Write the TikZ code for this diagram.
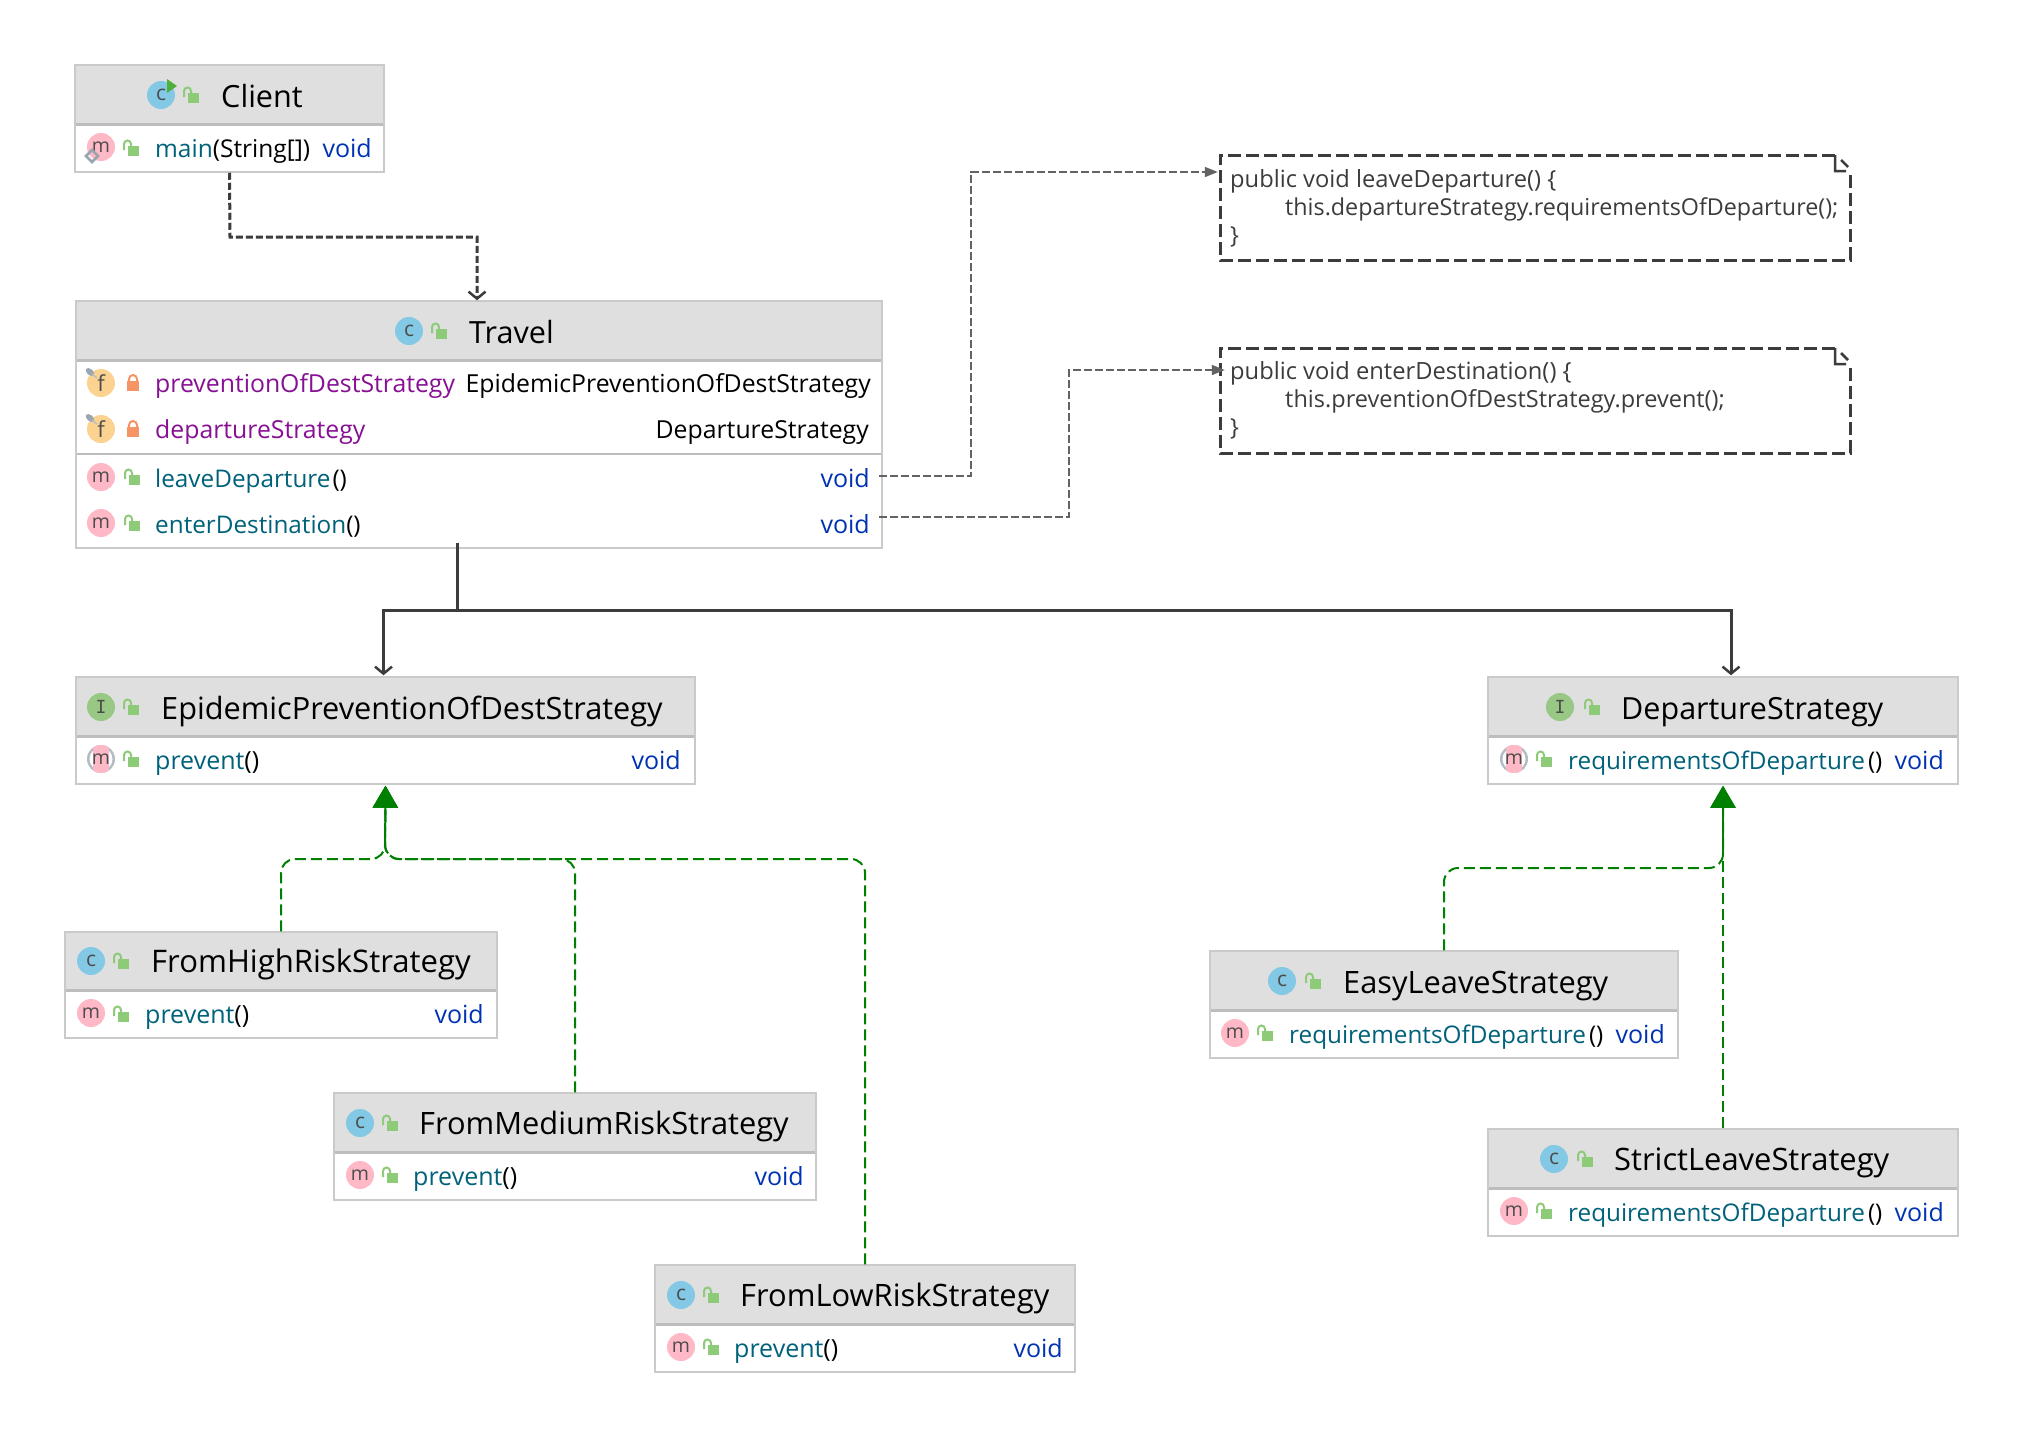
\documentclass[tikz,border=0pt]{standalone}
\usepackage{fontspec}
\setmainfont{Open Sans}
\newfontfamily\iconfont{DejaVu Sans Mono}
\usetikzlibrary{arrows.meta,calc}
\definecolor{hdr}{HTML}{DFDFDF}
\definecolor{brd}{HTML}{CACACA}
\definecolor{sepc}{HTML}{BDBDBD}
\definecolor{mth}{HTML}{00627A}
\definecolor{fld}{HTML}{871094}
\definecolor{kwd}{HTML}{0033B3}
\definecolor{iconC}{HTML}{83C9E5}
\definecolor{iconI}{HTML}{98C883}
\definecolor{iconM}{HTML}{FFB8C6}
\definecolor{iconF}{HTML}{FBD28F}
\definecolor{lockG}{HTML}{8ECB78}
\definecolor{lockO}{HTML}{F59566}
\definecolor{ink}{HTML}{3C3C3C}
\definecolor{grn}{HTML}{008000}
\definecolor{pinc}{HTML}{9AA5AF}
\definecolor{runc}{HTML}{50AF38}
\newcommand{\fs}[1]{\fontsize{#1}{1.2em}\selectfont}
\newcommand{\rowf}{\fs{24.3}}
\newcommand{\pvf}{\fs{25}}
\newcommand{\fldf}{\fs{24.8}}
\newcommand{\notef}[1]{\fs{#1}\color{ink}}
\tikzset{
  x=1pt,y=-1pt,
  umlbox/.style={draw=brd,line width=1.5pt,fill=white,inner sep=0pt,rectangle},
  notebody/.style={inner sep=0pt,rectangle},
  txt/.style={anchor=base west,inner sep=0pt},
  txtr/.style={anchor=base east,inner sep=0pt},
  uses/.style={draw=ink,line width=3pt,dash pattern=on 7pt off 3pt,-{Straight Barb[length=7pt,width=17pt,line width=2.5pt]}},
  assoc/.style={draw=ink,line width=3pt,-{Straight Barb[length=7pt,width=17pt,line width=2.5pt]}},
  link/.style={draw=ink!80,line width=1.6pt,dash pattern=on 8pt off 3pt,-{Triangle[length=13pt,width=10pt]}},
  impl/.style={draw=grn,line width=2pt,dash pattern=on 11pt off 5pt,rounded corners=14pt,-{Triangle[length=22pt,width=25pt]}},
  notedash/.style={draw=ink,line width=3pt,dash pattern=on 13pt off 5pt},
}
% name, left, top, right, bottom, header bottom
\newcommand{\umlframe}[6]{
  \node[umlbox,minimum width=#4-#2,minimum height=#5-#3] (#1) at ({(#2+#4)/2},{(#3+#5)/2}) {};
  \fill[hdr] (#2+1,#3+1) rectangle (#4-1,#6-1);
  \draw[sepc,line width=3pt] (#2+1,#6) -- (#4-1,#6);
}
\newcommand{\plock}[2]{
  \fill[lockG] (#1-3,#2-2) rectangle (#1+8,#2+8);
  \draw[lockG,line width=2pt] (#1-7,#2+2) -- (#1-7,#2-4) arc[start angle=180,end angle=360,radius=3.5] -- (#1,#2-1);
}
\newcommand{\rlock}[2]{
  \fill[lockO] (#1-6,#2-2) rectangle (#1+6,#2+8);
  \draw[lockO,line width=2pt] (#1-4,#2-2) -- (#1-4,#2-4) arc[start angle=180,end angle=360,radius=4] -- (#1+4,#2-2);
}
\newcommand{\ico}[4]{
  \fill[#3] (#1,#2) circle[radius=14];
  \node[inner sep=0pt,text=black!70] at (#1,#2) {#4};
}
\newcommand{\lc}{\fontsize{21}{22}\selectfont c}
\newcommand{\lm}{\fontsize{19.5}{20}\selectfont m}
\newcommand{\lf}{\fontsize{22}{22}\selectfont f}
\newcommand{\li}{\iconfont\fontsize{18}{20}\selectfont I}
\newcommand{\absm}[2]{
  \fill[pinc!75] (#1,#2) circle[radius=14];
  \fill[white] (#1,#2) circle[radius=11.5];
  \begin{scope}
    \clip (#1,#2) circle[radius=14];
    \fill[iconM] (#1-8,#2-14) rectangle (#1+8,#2+14);
  \end{scope}
  \node[inner sep=0pt,text=black!70] at (#1,#2) {\lm};
}
\newcommand{\finalpin}[2]{
  \fill[pinc,rotate around={-40:(#1-11,#2-11)}] (#1-11,#2-11) ellipse[x radius=5,y radius=3];
  \draw[pinc!70,line width=1.5pt] (#1-9,#2-9) -- (#1-4,#2-5);
}
\begin{document}
\begin{tikzpicture}
\useasboundingbox (0,0) rectangle (2024,1438);
\fill[white] (0,0) rectangle (2024,1438);

% ---------- Client
\umlframe{client}{75}{65}{384}{172}{124}
\ico{161}{95}{iconC}{\lc}
\fill[runc] (167,79) -- (177,86) -- (167,93) -- cycle;
\plock{191}{95}
\node[txt] (clientT) at (221,107) {\fs{30.6}Client};
\ico{101}{147}{iconM}{\lm}
\draw[pinc,line width=2.5pt] (92,150) -- (98,156) -- (92,162) -- (86,156) -- cycle;
\plock{131}{148}
\node[txt] (clientM) at (155,157) {\fs{24.5}\textcolor{mth}{main}(String[])};
\node[txtr] (clientV) at (372,157) {\pvf\textcolor{kwd}{void}};

% ---------- Travel
\umlframe{travel}{76}{301}{882}{548}{360}
\draw[sepc,line width=2.5pt] (77,454) -- (881,454);
\ico{409}{331}{iconC}{\lc}
\plock{439}{331}
\node[txt] (travelT) at (469,343) {\fs{30.6}Travel};
\ico{101}{383}{iconF}{\lf}\finalpin{101}{383}
\rlock{133}{383}
\node[txt] (fa) at (155,392) {\fldf\textcolor{fld}{preventionOfDestStrategy}};
\node[txtr] (fat) at (871,392) {\fldf EpidemicPreventionOfDestStrategy};
\ico{101}{429}{iconF}{\lf}\finalpin{101}{429}
\rlock{133}{429}
\node[txt] (fb) at (155,438) {\fldf\textcolor{fld}{departureStrategy}};
\node[txtr] (fbt) at (869,438) {\fldf DepartureStrategy};
\ico{101}{477}{iconM}{\lm}
\plock{132}{477}
\node[txt] (ma) at (155,487) {\rowf\textcolor{mth}{leaveDeparture}\hspace{2pt}()};
\node[txtr] (mav) at (870,487) {\pvf\textcolor{kwd}{void}};
\ico{101}{523}{iconM}{\lm}
\plock{132}{523}
\node[txt] (mb) at (155,533) {\rowf\textcolor{mth}{enterDestination}()};
\node[txtr] (mbv) at (870,533) {\pvf\textcolor{kwd}{void}};

% ---------- EpidemicPreventionOfDestStrategy
\umlframe{epi}{76}{677}{695}{784}{736}
\ico{101}{707}{iconI}{\li}
\plock{131}{707}
\node[txt] (epiT) at (161,719) {\fs{30.7}EpidemicPreventionOfDestStrategy};
\absm{101}{759}
\plock{131}{759}
\node[txt] (epiM) at (155,769) {\pvf\textcolor{mth}{prevent}()};
\node[txtr] (epiV) at (681,769) {\pvf\textcolor{kwd}{void}};

% ---------- DepartureStrategy
\umlframe{dep}{1488}{677}{1958}{784}{736}
\ico{1560}{707}{iconI}{\li}
\plock{1592}{707}
\node[txt] (depT) at (1621,719) {\fs{30.5}DepartureStrategy};
\absm{1514}{759}
\plock{1544}{759}
\node[txt] (depM) at (1568,769) {\rowf\textcolor{mth}{requirementsOfDeparture}\hspace{3pt}()};
\node[txtr] (depV) at (1944,769) {\pvf\textcolor{kwd}{void}};

% ---------- FromHighRiskStrategy
\umlframe{high}{65}{932}{497}{1038}{990}
\ico{91}{961}{iconC}{\lc}
\plock{121}{961}
\node[txt] (highT) at (151,972) {\fs{31.1}FromHighRiskStrategy};
\ico{91}{1013}{iconM}{\lm}
\plock{121}{1014}
\node[txt] (highM) at (145,1023) {\pvf\textcolor{mth}{prevent}()};
\node[txtr] (highV) at (484,1023) {\pvf\textcolor{kwd}{void}};

% ---------- FromMediumRiskStrategy
\umlframe{med}{334}{1093}{816}{1200}{1152}
\ico{360}{1123}{iconC}{\lc}
\plock{390}{1123}
\node[txt] (medT) at (419,1134) {\fs{30.8}FromMediumRiskStrategy};
\ico{360}{1175}{iconM}{\lm}
\plock{390}{1175}
\node[txt] (medM) at (413,1185) {\pvf\textcolor{mth}{prevent}()};
\node[txtr] (medV) at (804,1185) {\pvf\textcolor{kwd}{void}};

% ---------- FromLowRiskStrategy
\umlframe{low}{655}{1265}{1075}{1372}{1324}
\ico{681}{1295}{iconC}{\lc}
\plock{711}{1295}
\node[txt] (lowT) at (740,1306) {\fs{30.9}FromLowRiskStrategy};
\ico{681}{1347}{iconM}{\lm}
\plock{711}{1347}
\node[txt] (lowM) at (734,1357) {\pvf\textcolor{mth}{prevent}()};
\node[txtr] (lowV) at (1063,1357) {\pvf\textcolor{kwd}{void}};

% ---------- EasyLeaveStrategy
\umlframe{easy}{1210}{951}{1678}{1058}{1010}
\ico{1282}{981}{iconC}{\lc}
\plock{1313}{981}
\node[txt] (easyT) at (1343,993) {\fs{30.8}EasyLeaveStrategy};
\ico{1235}{1033}{iconM}{\lm}
\plock{1265}{1033}
\node[txt] (easyM) at (1289,1043) {\rowf\textcolor{mth}{requirementsOfDeparture}\hspace{3pt}()};
\node[txtr] (easyV) at (1665,1043) {\pvf\textcolor{kwd}{void}};

% ---------- StrictLeaveStrategy
\umlframe{strict}{1488}{1129}{1958}{1236}{1188}
\ico{1554}{1159}{iconC}{\lc}
\plock{1585}{1159}
\node[txt] (strictT) at (1614,1170) {\fs{30.9}StrictLeaveStrategy};
\ico{1514}{1211}{iconM}{\lm}
\plock{1544}{1211}
\node[txt] (strictM) at (1568,1221) {\rowf\textcolor{mth}{requirementsOfDeparture}\hspace{3pt}()};
\node[txtr] (strictV) at (1944,1221) {\pvf\textcolor{kwd}{void}};

% ---------- Notes
\node[notebody,minimum width=630pt,minimum height=105pt] (noteA) at (1535,207.5) {};
\draw[notedash] (1835,155) -- (1220,155) -- (1220,260) -- (1850,260) -- (1850,172);
\draw[ink,line width=2.5pt] (1835,155) -- (1835,171) -- (1846,171) (1841,160) -- (1848,167);
\node[txt] (noteA1) at (1230,187) {\notef{23.7}public void leaveDeparture() \{};
\node[txt] (noteA2) at (1285,215) {\notef{23.3}this.departureStrategy.requirementsOfDeparture();};
\node[txt] (noteA3) at (1230,243) {\notef{23.5}\}};

\node[notebody,minimum width=630pt,minimum height=105pt] (noteB) at (1535,400.5) {};
\draw[notedash] (1835,348) -- (1220,348) -- (1220,453) -- (1850,453) -- (1850,365);
\draw[ink,line width=2.5pt] (1835,348) -- (1835,364) -- (1846,364) (1841,353) -- (1848,360);
\node[txt] (noteB1) at (1230,379) {\notef{23.7}public void enterDestination() \{};
\node[txt] (noteB2) at (1285,407) {\notef{23.5}this.preventionOfDestStrategy.prevent();};
\node[txt] (noteB3) at (1230,435) {\notef{23.5}\}};

% ---------- Connectors
\coordinate (busU) at (230,237);
\draw[uses] (client.south) -- (busU) -| ([xshift=-2pt]travel.north);

\coordinate (busA) at (457,610);
\draw[assoc] ([xshift=-22pt,yshift=6pt]travel.south) -- (busA) -| ([xshift=-2pt,yshift=1pt]epi.north);
\draw[assoc] (busA) -| ([xshift=8pt,yshift=1pt]dep.north);

\coordinate (bendA) at (971,476);
\coordinate (bendB) at (1069,517);
\draw[link] ([xshift=-4pt,yshift=-51.5pt]travel.east) -- (bendA) |- ([xshift=-2pt,yshift=35.5pt]noteA.west);
\draw[link] ([xshift=-4pt,yshift=-92.5pt]travel.east) -- (bendB) |- ([xshift=5pt,yshift=30.5pt]noteB.west);

\coordinate (busE) at (385,859);
\coordinate (busD) at (1723,868);
\draw[impl] (high.north) |- (busE) -- ([yshift=-1pt]epi.south);
\draw[impl] (med.north) |- (busE) -- ([yshift=-1pt]epi.south);
\draw[impl] (low.north) |- (busE) -- ([yshift=-1pt]epi.south);
\draw[impl] (easy.north) |- (busD) -- ([yshift=-1pt]dep.south);
\draw[impl] (strict.north) -- ([yshift=-1pt]dep.south);
\end{tikzpicture}
\end{document}
